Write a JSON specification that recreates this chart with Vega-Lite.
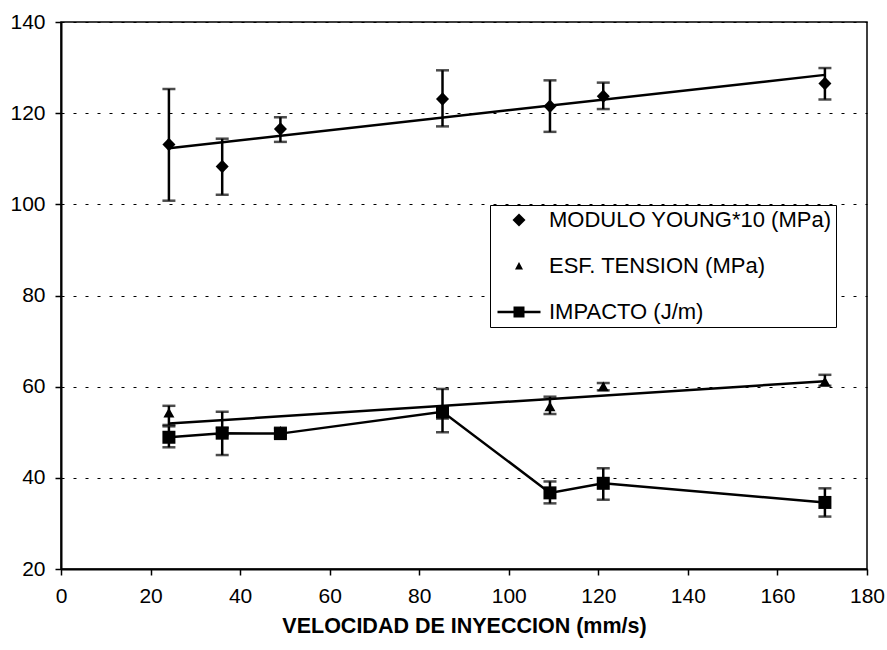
{
  "$schema": "https://vega.github.io/schema/vega-lite/v6.json",
  "width": 806,
  "height": 547,
  "autosize": "none",
  "padding": {"left": 61, "top": 22, "right": 20, "bottom": 81},
  "background": "white",
  "config": {
    "font": "Liberation Sans",
    "view": {"stroke": "black", "strokeWidth": 1.5}
  },
  "datasets": {
    "puntos": [
      {"serie": "MODULO YOUNG*10 (MPa)", "x": 24.1, "y": 113.1, "lo": 100.8, "hi": 125.3},
      {"serie": "MODULO YOUNG*10 (MPa)", "x": 36.0, "y": 108.3, "lo": 102.1, "hi": 114.4},
      {"serie": "MODULO YOUNG*10 (MPa)", "x": 49.0, "y": 116.5, "lo": 113.7, "hi": 119.1},
      {"serie": "MODULO YOUNG*10 (MPa)", "x": 85.2, "y": 123.1, "lo": 117.1, "hi": 129.4},
      {"serie": "MODULO YOUNG*10 (MPa)", "x": 109.2, "y": 121.5, "lo": 115.9, "hi": 127.2},
      {"serie": "MODULO YOUNG*10 (MPa)", "x": 121.1, "y": 123.7, "lo": 120.9, "hi": 126.7},
      {"serie": "MODULO YOUNG*10 (MPa)", "x": 170.6, "y": 126.5, "lo": 123.0, "hi": 129.9},
      {"serie": "ESF. TENSION (MPa)", "x": 24.1, "y": 54.2, "lo": 51.6, "hi": 55.8},
      {"serie": "ESF. TENSION (MPa)", "x": 36.0, "y": 50.2, "lo": 49.4, "hi": 51.0},
      {"serie": "ESF. TENSION (MPa)", "x": 49.0, "y": 50.2, "lo": 49.4, "hi": 51.0},
      {"serie": "ESF. TENSION (MPa)", "x": 85.2, "y": 54.0, "lo": 53.0, "hi": 55.0},
      {"serie": "ESF. TENSION (MPa)", "x": 109.2, "y": 55.6, "lo": 54.0, "hi": 57.8},
      {"serie": "ESF. TENSION (MPa)", "x": 121.1, "y": 60.0, "lo": 59.2, "hi": 60.8},
      {"serie": "ESF. TENSION (MPa)", "x": 170.6, "y": 61.1, "lo": 60.2, "hi": 62.6},
      {"serie": "IMPACTO (J/m)", "x": 24.1, "y": 48.9, "lo": 46.7, "hi": 51.3},
      {"serie": "IMPACTO (J/m)", "x": 36.0, "y": 49.8, "lo": 45.0, "hi": 54.5},
      {"serie": "IMPACTO (J/m)", "x": 49.0, "y": 49.7, "lo": 48.8, "hi": 50.6},
      {"serie": "IMPACTO (J/m)", "x": 85.2, "y": 54.5, "lo": 50.0, "hi": 59.5},
      {"serie": "IMPACTO (J/m)", "x": 109.2, "y": 36.7, "lo": 34.4, "hi": 39.2},
      {"serie": "IMPACTO (J/m)", "x": 121.1, "y": 38.8, "lo": 35.2, "hi": 42.1},
      {"serie": "IMPACTO (J/m)", "x": 170.6, "y": 34.6, "lo": 31.5, "hi": 37.7}
    ],
    "tendencia": [
      {"serie": "MODULO YOUNG*10 (MPa)", "x": 24.1, "y": 112.3},
      {"serie": "MODULO YOUNG*10 (MPa)", "x": 170.6, "y": 128.4},
      {"serie": "ESF. TENSION (MPa)", "x": 24.1, "y": 51.9},
      {"serie": "ESF. TENSION (MPa)", "x": 170.6, "y": 61.2}
    ]
  },
  "encoding": {
    "x": {
      "field": "x",
      "type": "quantitative",
      "scale": {"domain": [0, 180], "nice": false, "zero": false},
      "axis": {
        "title": "VELOCIDAD DE INYECCION (mm/s)",
        "values": [0, 20, 40, 60, 80, 100, 120, 140, 160, 180],
        "grid": false,
        "domainColor": "black",
        "domainWidth": 2,
        "tickColor": "black",
        "tickSize": 6,
        "tickWidth": 1.5,
        "labelFontSize": 21,
        "labelColor": "black",
        "labelPadding": 10,
        "labelFlush": false,
        "titleFontSize": 21.5,
        "titleFontWeight": "bold",
        "titleColor": "black",
        "titlePadding": 9
      }
    },
    "y": {
      "field": "y",
      "type": "quantitative",
      "title": null,
      "scale": {"domain": [20, 140], "nice": false, "zero": false},
      "axis": {
        "title": null,
        "values": [20, 40, 60, 80, 100, 120, 140],
        "grid": true,
        "gridColor": "black",
        "gridDash": [3, 9],
        "gridWidth": 1,
        "domainColor": "black",
        "domainWidth": 2,
        "tickColor": "black",
        "tickSize": 6,
        "tickWidth": 1.5,
        "labelFontSize": 21,
        "labelColor": "black",
        "labelPadding": 10
      }
    }
  },
  "layer": [
    {
      "data": {"name": "tendencia"},
      "mark": {"type": "line", "color": "black", "strokeWidth": 2.5},
      "encoding": {"detail": {"field": "serie", "type": "nominal"}}
    },
    {
      "data": {"name": "puntos"},
      "transform": [{"filter": "datum.serie === 'IMPACTO (J/m)'"}],
      "mark": {"type": "line", "color": "black", "strokeWidth": 2.5},
      "encoding": {}
    },
    {
      "data": {"name": "puntos"},
      "mark": {"type": "rule", "color": "black", "strokeWidth": 2.5},
      "encoding": {
        "y": {"field": "lo", "type": "quantitative", "title": null},
        "y2": {"field": "hi"}
      }
    },
    {
      "data": {"name": "puntos"},
      "mark": {"type": "tick", "orient": "horizontal", "color": "black", "size": 13, "thickness": 2.5},
      "encoding": {"y": {"field": "lo", "type": "quantitative", "title": null}}
    },
    {
      "data": {"name": "puntos"},
      "mark": {"type": "tick", "orient": "horizontal", "color": "black", "size": 13, "thickness": 2.5},
      "encoding": {"y": {"field": "hi", "type": "quantitative", "title": null}}
    },
    {
      "data": {"name": "puntos"},
      "mark": {"type": "point", "filled": true, "color": "black", "opacity": 1, "size": 100, "strokeWidth": 0},
      "encoding": {
        "shape": {
          "field": "serie",
          "type": "nominal",
          "scale": {
            "domain": ["MODULO YOUNG*10 (MPa)", "ESF. TENSION (MPa)", "IMPACTO (J/m)"],
            "range": ["M0,-1.35L1.3,0L0,1.35L-1.3,0Z", "M0,-1.05L1.1,0.9L-1.1,0.9Z", "M-1.3,-1.3H1.3V1.3H-1.3Z"]
          },
          "legend": null
        }
      }
    },
    {
      "data": {"name": "puntos"},
      "mark": {"type": "point", "filled": true, "color": "black", "opacity": 0},
      "encoding": {
        "shape": {
          "field": "serie",
          "type": "nominal",
          "scale": {
            "domain": ["MODULO YOUNG*10 (MPa)", "ESF. TENSION (MPa)", "IMPACTO (J/m)"],
            "range": ["M0,-0.65L0.65,0L0,0.65L-0.65,0Z", "M0,-0.4L0.4,0.35L-0.4,0.35Z", "M-2.15,-0.12H2.15V0.12H-2.15Z M-0.55,-0.55H0.55V0.55H-0.55Z"]
          },
          "legend": {
            "title": null,
            "orient": "none",
            "legendX": 429,
            "legendY": 183,
            "direction": "vertical",
            "strokeColor": "black",
            "fillColor": "white",
            "padding": 4,
            "symbolSize": 400,
            "symbolOffset": 14,
            "symbolFillColor": "black",
            "symbolStrokeColor": "black",
            "symbolStrokeWidth": 0,
            "symbolOpacity": 1,
            "labelFontSize": 22,
            "labelColor": "black",
            "labelOffset": 19,
            "labelLimit": 400,
            "rowPadding": 24,
            "encode": {"legend": {"update": {"strokeWidth": {"value": 2}}}}
          }
        }
      }
    }
  ],
  "resolve": {"scale": {"shape": "independent"}}
}
